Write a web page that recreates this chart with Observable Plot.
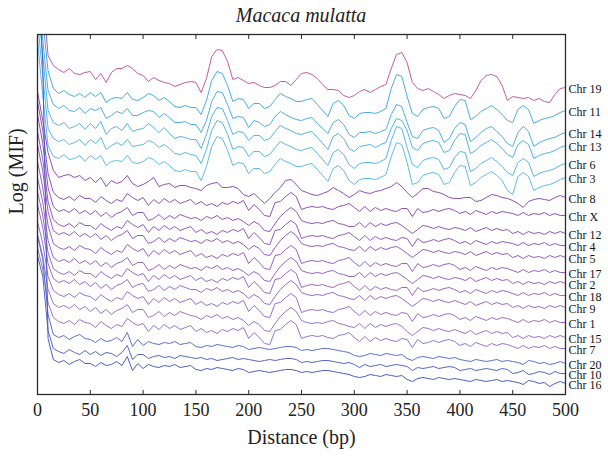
<!DOCTYPE html>
<html><head><meta charset="utf-8">
<script src="https://cdn.jsdelivr.net/npm/d3@7"></script>
<script src="https://cdn.jsdelivr.net/npm/@observablehq/plot@0.6"></script>
<style>
body{margin:0;background:#fff;}
#title{position:absolute;left:0;top:3px;width:602px;text-align:center;font:italic 20px/24px "Liberation Serif",serif;color:#222;}
#chart{position:absolute;left:0;top:24px;}
</style></head><body>
<div id="title">Macaca mulatta</div>
<div id="chart"></div>
<script>
const distance = [0,5,10,15,20,25,30,35,40,45,50,55,60,65,70,75,80,85,90,95,100,105,110,115,120,125,130,135,140,145,150,155,160,165,170,175,180,185,190,195,200,205,210,215,220,225,230,235,240,245,250,255,260,265,270,275,280,285,290,295,300,305,310,315,320,325,330,335,340,345,350,355,360,365,370,375,380,385,390,395,400,405,410,415,420,425,430,435,440,445,450,455,460,465,470,475,480,485,490,495,500];
const xTicks = [0,50,100,150,200,250,300,350,400,450,500];
const names = ["Chr 19","Chr 11","Chr 14","Chr 13","Chr 6","Chr 3","Chr 8","Chr X","Chr 12","Chr 4","Chr 5","Chr 17","Chr 2","Chr 18","Chr 9","Chr 1","Chr 15","Chr 7","Chr 20","Chr 10","Chr 16"];
const colors = ["#c2509f","#3fa6e0","#45aae2","#4aaee4","#50b2e6","#56b5e8","#8745b0","#8948b2","#8b4cb5","#8d50b7","#8f54b9","#9158bc","#935cbe","#9460c0","#9463c2","#9466c5","#926ac8","#8e6ecb","#5468cc","#4a5fc6","#4256c0"];

const chr19 = [474,404,339,329,325,322,326,321,320,322,
323,315,321,312,322,326,326,329,326,321,
319,313,317,314,312,311,308,310,312,313,
312,302,316,338,345,344,333,315,317,314,
311,312,309,307,307,309,313,313,309,315,
321,322,320,316,310,305,305,304,299,297,
299,303,305,302,305,308,310,326,340,342,
332,312,306,304,306,303,300,296,299,301,
300,299,296,304,314,319,320,318,309,294,
298,297,296,297,294,296,293,292,300,306,307];
const chr11 = [434,374,324,306,301,304,300,298,301,297,
302,298,302,292,296,297,296,302,295,294,
297,301,299,294,297,293,288,287,289,287,
287,280,294,314,323,321,309,293,296,295,
286,291,291,286,288,295,301,298,296,293,
293,295,296,290,284,278,291,294,289,279,
276,281,282,282,281,283,286,306,320,318,
298,281,278,285,287,288,286,276,278,288,
295,294,275,278,283,286,289,285,280,274,
272,285,289,285,271,274,276,277,279,282,284];
const chr14 = [414,354,304,290,286,289,284,283,287,281,
286,284,287,276,279,283,281,286,279,279,
282,284,283,277,281,277,272,272,273,270,
270,262,274,293,303,302,290,276,278,277,
267,274,272,268,270,278,283,280,277,275,
274,276,277,271,266,261,272,275,270,260,
257,262,262,263,261,263,265,280,290,288,
272,258,256,264,266,267,264,252,256,266,
272,270,253,257,262,266,268,263,258,251,
248,262,268,263,248,252,254,256,257,260,262];
const chr13 = [394,339,284,272,269,272,266,268,271,265,
271,266,273,260,266,268,264,271,263,265,
266,271,267,262,267,261,256,258,257,255,
255,246,260,278,287,286,274,260,263,262,
254,259,259,254,256,263,269,266,264,261,
260,262,263,257,251,245,258,261,256,246,
243,248,249,250,247,250,252,266,276,274,
264,247,244,251,253,254,252,242,244,254,
261,260,241,244,249,252,255,251,246,240,
237,250,254,250,236,239,241,242,244,247,249];
const chr6 = [374,319,266,256,253,255,250,252,255,249,
255,251,257,245,249,252,249,255,248,249,
250,254,252,247,250,246,241,240,242,240,
239,231,245,264,274,272,260,245,248,247,
238,243,243,238,240,247,253,250,248,245,
244,246,247,241,235,229,242,245,240,230,
226,231,232,232,231,233,236,254,268,266,
247,230,227,234,236,237,235,225,227,237,
243,242,223,226,231,234,237,233,228,222,
219,232,236,232,218,221,223,224,226,229,231];
const chr3 = [354,299,249,238,236,240,235,236,239,233,
239,235,239,229,233,234,233,239,232,231,
233,237,235,230,233,229,224,223,225,223,
223,214,228,248,258,256,244,229,232,231,
221,226,226,221,223,230,236,233,231,228,
228,230,231,225,219,213,226,229,224,214,
210,215,216,216,215,217,220,238,252,250,
232,210,212,219,221,222,220,210,212,222,
229,228,209,212,217,220,223,219,214,204,
200,218,222,218,204,207,209,210,212,215,217];
const chr8 = [303,274,242,224,217,219,220,217,219,214,
217,212,217,208,214,211,213,219,211,208,
210,213,217,208,210,211,207,209,209,207,
206,204,209,211,212,207,207,208,206,200,
198,201,196,191,196,202,207,214,215,210,
204,202,200,199,201,203,207,204,201,197,
200,204,202,201,203,204,206,208,212,208,
202,197,201,206,206,203,202,200,197,196,
196,197,197,193,194,197,200,199,197,196,
194,191,187,193,195,196,195,194,197,199,197];
const chrX = [293,264,221,202,197,195,198,194,199,196,
196,192,198,194,191,195,193,201,197,194,
197,189,195,191,196,192,195,191,193,195,
190,193,189,191,188,192,190,193,191,194,
184,190,185,179,178,192,193,198,202,198,
185,187,188,187,188,186,185,188,189,191,
187,183,188,183,187,184,186,184,183,186,
186,178,186,182,183,185,183,185,186,184,
181,183,180,184,182,180,183,181,183,182,
181,179,182,179,181,180,182,179,181,179,179];
const chr12 = [280,251,207,188,183,185,182,186,181,184,
180,184,178,182,177,181,183,187,179,182,
182,174,176,180,175,179,176,180,178,176,
177,174,178,176,179,175,177,174,176,173,
169,173,170,164,163,171,178,183,187,183,
174,172,171,172,171,173,174,171,170,168,
168,172,167,172,168,171,169,171,172,169,
165,161,165,169,168,166,168,166,165,167,
166,164,167,163,165,167,164,166,164,165,
161,163,160,163,161,162,160,163,161,163,161];
const chr4 = [263,235,193,175,170,168,171,167,172,169,
169,165,171,167,164,168,166,174,170,167,
170,162,168,164,169,165,168,164,166,168,
162,165,161,163,160,164,162,165,163,166,
156,162,157,151,150,164,165,170,174,170,
156,158,159,158,159,157,156,159,160,162,
158,154,159,154,158,155,157,155,154,157,
156,148,156,152,153,155,153,155,156,154,
151,153,150,154,152,150,153,151,153,152,
151,149,152,149,151,150,152,149,151,149,149];
const chr5 = [250,223,183,164,160,162,159,163,158,161,
157,161,155,159,154,158,160,164,156,159,
159,151,153,157,152,156,153,157,155,153,
154,151,155,153,156,152,154,151,153,150,
145,149,146,140,139,147,154,159,163,159,
151,149,148,149,148,150,151,148,147,145,
144,148,143,148,144,147,145,147,148,145,
141,137,141,145,144,142,144,142,141,143,
142,140,143,139,141,143,140,142,140,141,
137,139,136,139,137,138,136,139,137,139,137];
const chr17 = [233,207,169,151,147,145,148,144,149,146,
145,141,147,143,140,144,142,150,146,143,
146,138,144,140,145,141,144,140,142,144,
138,141,137,139,136,140,138,141,139,142,
131,137,132,126,125,139,140,145,149,145,
131,133,134,133,134,132,131,134,135,137,
132,128,133,128,132,129,131,129,128,131,
131,123,131,127,128,130,128,130,131,129,
125,127,124,128,126,124,127,125,127,126,
124,122,125,122,124,123,125,122,124,122,122];
const chr2 = [217,192,154,137,133,135,132,136,131,134,
130,134,128,132,127,131,133,137,129,132,
132,124,126,130,125,129,126,130,128,126,
127,124,128,126,129,125,127,124,126,123,
119,123,120,114,113,121,128,133,137,133,
124,122,121,122,121,123,124,121,120,118,
118,122,117,122,118,121,119,121,122,119,
115,111,115,119,118,116,118,116,115,117,
116,114,117,113,115,117,114,116,114,115,
111,113,110,113,111,112,110,113,111,113,111];
const chr18 = [203,179,142,126,122,120,123,119,124,121,
121,117,123,119,116,120,118,126,122,119,
121,113,119,115,120,116,119,115,117,119,
114,117,113,115,112,116,114,117,115,118,
107,113,108,102,101,115,116,121,125,121,
107,109,110,109,110,108,107,110,111,113,
108,104,109,104,108,105,107,105,104,107,
107,99,107,103,104,106,104,106,107,105,
102,104,101,105,103,101,104,102,104,103,
101,99,102,99,101,100,102,99,101,99,99];
const chr9 = [190,167,131,116,112,114,111,115,110,113,
108,112,106,110,105,109,111,115,107,110,
111,103,105,109,104,108,105,109,107,105,
105,102,106,104,107,103,105,102,104,101,
96,100,97,91,90,98,105,110,114,110,
102,100,99,100,99,101,102,99,98,96,
95,99,94,99,95,98,96,98,99,96,
92,88,92,96,95,93,95,93,92,94,
92,90,93,89,91,93,90,92,90,91,
87,89,86,89,87,88,86,89,87,89,87];
const chr1 = [173,151,118,104,100,98,101,97,102,99,
98,94,100,96,93,97,95,103,99,96,
98,90,96,92,97,93,96,92,94,96,
90,93,89,91,88,92,90,93,91,94,
83,89,84,78,77,91,92,97,101,97,
82,84,85,84,85,83,82,85,86,88,
83,79,84,79,83,80,82,80,79,82,
81,73,81,77,78,80,78,80,81,79,
75,77,74,78,76,74,77,75,77,76,
74,72,75,72,74,73,75,72,74,72,72];
const chr15 = [160,138,105,91,87,89,86,90,85,88,
83,87,81,85,80,84,86,90,82,85,
85,77,79,83,78,82,79,83,81,79,
78,75,79,77,80,76,78,75,77,74,
69,73,70,64,63,71,78,83,87,83,
74,72,71,72,71,73,74,71,70,68,
67,71,66,71,67,70,68,70,71,68,
63,59,63,67,66,64,66,64,63,65,
63,61,64,60,62,64,61,63,61,62,
57,59,56,59,57,58,56,59,57,59,57];
const chr7 = [147,125,92,77,73,71,74,70,75,72,
71,67,73,69,66,70,68,76,72,69,
71,63,69,65,70,66,69,65,67,69,
63,66,62,64,61,65,63,66,64,67,
56,62,57,51,50,64,65,70,74,70,
56,58,59,58,59,57,56,59,60,62,
57,53,58,53,57,54,56,54,53,56,
55,47,55,51,52,54,52,54,55,53,
49,51,48,52,50,48,51,49,51,50,
48,46,49,46,48,47,49,46,48,46,46];
const chr20 = [159,135,80,60,57,59,55,58,60,56,
55,52,56,53,54,57,53,62,48,55,
49,53,51,50,52,51,53,50,51,52,
48,47,49,48,50,49,48,47,49,48,
45,46,47,46,45,46,47,48,48,47,
44,45,44,45,46,46,45,44,43,42,
39,38,39,41,40,39,41,40,39,40,
36,34,37,38,37,36,38,37,36,37,
35,34,33,35,34,33,34,35,33,34,
33,32,30,34,33,31,32,30,31,33,31];
const chr10 = [139,118,64,46,43,41,45,42,40,44,
40,43,39,42,41,38,42,49,35,40,
40,36,38,39,37,38,36,39,38,37,
36,37,35,36,34,35,36,37,35,36,
35,34,33,34,35,34,35,36,36,35,
32,33,32,33,34,34,33,32,31,32,
30,27,30,28,29,30,28,29,30,29,
28,24,27,26,27,28,26,27,28,27,
24,25,26,24,25,26,25,24,26,25,
21,22,24,20,21,23,22,20,23,21,21];
const chr16 = [440,330,56,35,32,34,30,33,35,31,
31,28,32,29,30,33,29,38,24,31,
26,30,28,27,29,28,30,27,28,29,
25,24,26,25,27,26,25,24,26,25,
22,23,24,23,22,23,24,25,25,24,
22,23,22,23,24,24,23,22,21,20,
18,17,18,20,19,18,20,19,18,19,
15,13,16,17,16,15,17,16,15,16,
15,14,13,15,14,13,14,15,13,14,
13,12,10,14,13,11,12,8,11,13,11];

const series = [chr19,chr11,chr14,chr13,chr6,chr3,chr8,chrX,chr12,chr4,chr5,chr17,chr2,chr18,chr9,chr1,chr15,chr7,chr20,chr10,chr16];
const rows = series.flatMap((vals, i) => vals.map((v, j) => ({name: names[i], distance: distance[j], mif: v})));

const font = "Liberation Serif";
const chart = Plot.plot({
  width: 608, height: 433,
  marginLeft: 37, marginRight: 43, marginTop: 10, marginBottom: 63,
  style: {fontFamily: font, color: "#222", background: "#fff"},
  x: {domain: [0, 500], axis: null},
  y: {domain: [0, 360], axis: null},
  color: {domain: names, range: colors},
  marks: [
    Plot.line(rows, {x: "distance", y: "mif", z: "name", stroke: "name", strokeWidth: 0.95, clip: true}),
    Plot.text(rows, Plot.selectLast({x: "distance", y: "mif", z: "name", text: "name", textAnchor: "start", dx: 3, dy: 2, fontSize: 12, fill: "#111"})),
    Plot.frame({stroke: "#2a2a2a", strokeWidth: 1.3}),
    Plot.axisX({anchor: "bottom", ticks: xTicks, tickSize: -4, tickPadding: 13, label: null, fontSize: 18, stroke: "#2a2a2a"}),
    Plot.axisX({anchor: "top", ticks: xTicks, tickSize: -4, tickFormat: () => "", label: null, stroke: "#2a2a2a"}),
    Plot.text(["Distance (bp)"], {frameAnchor: "bottom", dy: 49, fontSize: 20, fill: "#222"}),
    Plot.text(["Log (MIF)"], {frameAnchor: "left", rotate: -90, dx: -21, fontSize: 20, fill: "#222"})
  ]
});
document.getElementById("chart").appendChild(chart);
</script>
</body></html>
